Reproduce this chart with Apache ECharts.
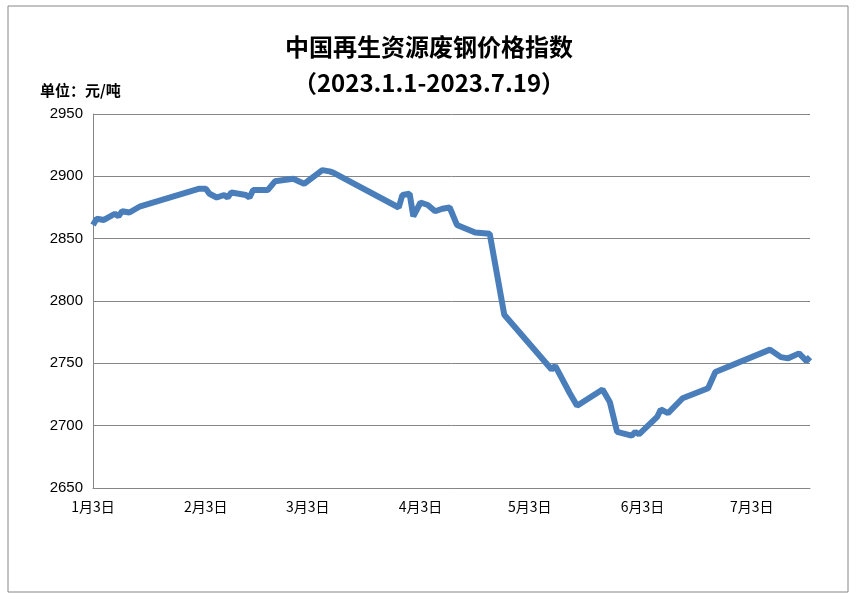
<!DOCTYPE html>
<html>
<head>
<meta charset="UTF-8">
<script src="https://cdn.jsdelivr.net/npm/echarts@6/dist/echarts.min.js"></script>
</head>
<body style="margin:0">
<div id="main" style="width:858px;height:603px"></div>
<script>
var pointDates = ['1-3','1-4','1-6','1-9','1-10','1-11','1-13','1-16','2-1','2-3','2-4','2-6','2-8','2-9','2-10','2-14','2-15','2-16','2-20','2-22','2-27','3-2','3-7','3-9','3-10','3-28','3-29','3-31','4-1','4-3','4-5','4-7','4-9','4-11','4-13','4-18','4-22','4-26','5-9','5-10','5-14','5-16','5-23','5-25','5-27','5-31','6-1','6-2','6-7','6-8','6-10','6-14','6-21','6-23','7-8','7-11','7-13','7-16','7-18','7-19'];
var pointValues = [2861,2866,2865,2870,2868,2872,2871,2876,2890,2890,2886,2883,2885,2883,2887,2885,2883,2889,2889,2896,2898,2894,2905,2904,2903,2875,2885,2886,2868,2879,2877,2872,2874,2875,2861,2855,2854,2789,2745,2748,2726,2716,2729,2719,2695,2692,2695,2693,2707,2713,2710,2722,2730,2743,2761,2755,2754,2758,2752,2755];

var days = [];
var d = new Date(2023, 0, 3);
while (d <= new Date(2023, 6, 19)) {
  days.push((d.getMonth() + 1) + '-' + d.getDate());
  d.setDate(d.getDate() + 1);
}
var data = pointDates.map(function (k, i) { return [days.indexOf(k), pointValues[i]]; });

var chart = echarts.init(document.getElementById('main'));
chart.setOption({
  backgroundColor: '#fff',
  animation: false,
  graphic: [
    { type: 'rect', shape: { x: 8, y: 6, width: 840, height: 586 }, style: { fill: 'none', stroke: '#868686', lineWidth: 1 } },
    { type: 'text', left: 40, top: 83, style: { text: '单位：元/吨', font: 'bold 15px "Noto Sans CJK SC"', fill: '#000' } }
  ],
  title: {
    text: '中国再生资源废钢价格指数\n（2023.1.1-2023.7.19）',
    left: 'center', top: 24,
    textStyle: { fontFamily: '"Noto Sans CJK SC"', fontSize: 24, fontWeight: 'bold', lineHeight: 36, color: '#000' }
  },
  grid: { left: 93, right: 48, top: 114, bottom: 115 },
  xAxis: {
    type: 'category', data: days, boundaryGap: false,
    axisLine: { lineStyle: { color: '#868686' } },
    axisTick: { show: false },
    axisLabel: {
      interval: function (i, v) { return v.split('-')[1] === '3'; },
      formatter: function (v) { var p = v.split('-'); return p[0] + '月' + p[1] + '日'; },
      color: '#000', fontSize: 14, fontFamily: '"Noto Sans CJK SC"', margin: 12
    }
  },
  yAxis: {
    type: 'value', min: 2650, max: 2950, interval: 50,
    axisLine: { show: true, lineStyle: { color: '#868686' } },
    axisLabel: { color: '#000', fontSize: 15, fontFamily: 'Liberation Sans', margin: 10, formatter: function (v) { return String(v); } },
    splitLine: { lineStyle: { color: '#868686' } }
  },
  series: [{
    type: 'line', data: data, showSymbol: false,
    lineStyle: { color: '#4a7ebb', width: 6 }
  }]
});
</script>
</body>
</html>
